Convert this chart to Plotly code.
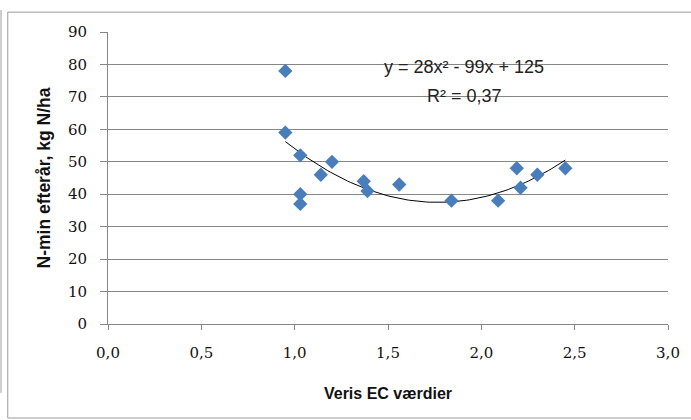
import numpy as np
import plotly.graph_objects as go

# Measured points: Veris EC vs. N-min after harvest
ec_values = [0.95, 0.95, 1.03, 1.20, 1.14, 1.03, 1.03, 1.37, 1.39, 1.56, 1.84, 2.09, 2.19, 2.21, 2.30, 2.45]
nmin_values = [78, 59, 52, 50, 46, 40, 37, 44, 41, 43, 38, 38, 48, 42, 46, 48]

# Second-order trendline coefficients (y = a x^2 + b x + c)
trend_coef = [28, -99, 125]
trend_equation = "y = 28x² - 99x + 125"
trend_r2 = "R² = 0,37"

x_ticks = [0.0, 0.5, 1.0, 1.5, 2.0, 2.5, 3.0]
x_tick_text = ["0,0", "0,5", "1,0", "1,5", "2,0", "2,5", "3,0"]
y_ticks = [0, 10, 20, 30, 40, 50, 60, 70, 80, 90]

trend_x = np.linspace(min(ec_values), max(ec_values), 100)
trend_y = np.polyval(trend_coef, trend_x)

fig = go.Figure()
fig.add_trace(go.Scatter(
    x=trend_x, y=trend_y, mode="lines",
    line=dict(color="black", width=1), hoverinfo="skip", showlegend=False,
))
fig.add_trace(go.Scatter(
    x=ec_values, y=nmin_values, mode="markers",
    marker=dict(symbol="diamond", size=11, color="#4a7ebb"),
    showlegend=False,
))

label_font = dict(family="Liberation Sans", size=18, color="#222")
fig.add_annotation(x=1.905, y=79.2, xref="x", yref="y", text=trend_equation,
                   showarrow=False, font=label_font)
fig.add_annotation(x=1.91, y=70.4, xref="x", yref="y", text=trend_r2,
                   showarrow=False, font=label_font)

tick_font = dict(family="DejaVu Serif", size=15, color="#111")

fig.update_xaxes(
    range=[0, 3.0], tickvals=x_ticks, ticktext=x_tick_text,
    showgrid=False, showline=True, linecolor="#868686", linewidth=1,
    ticks="outside", ticklen=5, tickcolor="#868686", ticklabelstandoff=10,
    tickfont=tick_font,
    title=dict(text="<b>Veris EC værdier</b>", standoff=26,
               font=dict(family="Liberation Sans", size=16, color="#111")),
    zeroline=False,
)
fig.update_yaxes(
    range=[0, 90], tickvals=y_ticks,
    showgrid=True, gridcolor="#868686", gridwidth=1,
    showline=True, linecolor="#868686", linewidth=1,
    ticks="outside", ticklen=7, tickcolor="#868686", ticklabelstandoff=10,
    tickfont=tick_font,
    title=dict(text="<b>N-min efterår, kg N/ha</b>", standoff=12,
               font=dict(family="Liberation Sans", size=17.5, color="#111")),
    zeroline=False,
)

# Chart-area border and the edge of the neighbouring frame on the left
fig.add_shape(type="rect", xref="paper", yref="paper",
              x0=-0.179, x1=1.06, y0=-0.322, y1=1.068,
              line=dict(color="#9a9a9a", width=1), layer="below")
fig.add_shape(type="line", xref="paper", yref="paper",
              x0=-0.191, x1=-0.191, y0=-0.236, y1=1.075,
              line=dict(color="#9a9a9a", width=1), layer="below")

fig.update_layout(
    width=691, height=420,
    margin=dict(l=108, r=23, t=32, b=96),
    paper_bgcolor="white", plot_bgcolor="white",
)

fig.write_html("out.html")
